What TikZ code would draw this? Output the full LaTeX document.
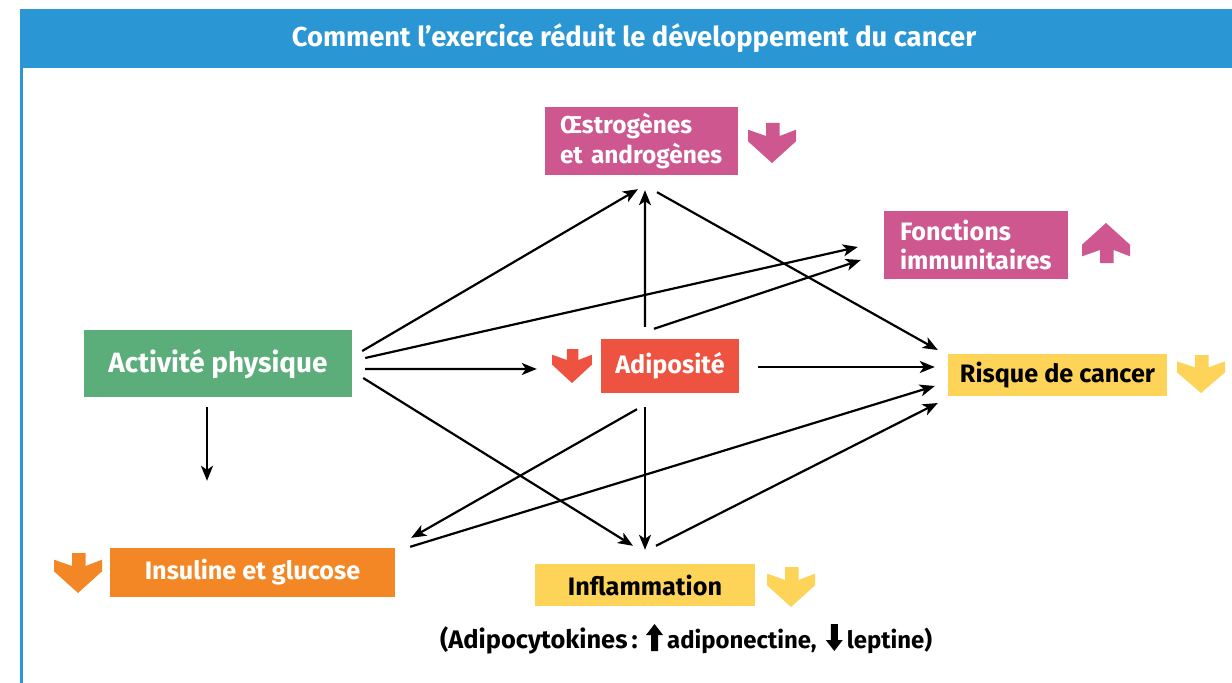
\documentclass[tikz,border=0pt]{standalone}
\usepackage{fontspec}
\setmainfont{Fira Sans}
\usetikzlibrary{arrows.meta,calc}
\definecolor{cblue}{HTML}{2A97D4}
\definecolor{cgreen}{HTML}{5BAD7A}
\definecolor{cpink}{HTML}{CE5790}
\definecolor{cred}{HTML}{EE5240}
\definecolor{cyellow}{HTML}{FDD358}
\definecolor{corange}{HTML}{F38725}
\tikzset{
  pics/blockdown/.style={code={\fill[#1] (18,0)--(31.7,0)--(31.7,13)--(48,6.7)--(48,18.3)--(24,40)--(0,18.3)--(0,6.7)--(18,13)--cycle;}},
  pics/smallup/.style={code={\fill[black] (0,-13)--(8.5,-24)--(17,-13)--(12,-13)--(12,3)--(5,3)--(5,-13)--cycle;}},
  pics/smalldown/.style={code={\fill[black] (0,-8)--(8.5,3)--(17,-8)--(12,-8)--(12,-24)--(5,-24)--(5,-8)--cycle;}},
}
\begin{document}
\begin{tikzpicture}[x=1bp,y=-1bp,
  box/.style={inner sep=0pt, font=\bfseries\fontsize{25.3}{29.5}\selectfont, text=white},
  twoline/.style={box, font=\bfseries\fontsize{24.5}{29.5}\selectfont, fill=cpink, minimum height=68bp, align=left},
  conn/.style={line width=2.2bp, -{Stealth[length=15bp,width=12bp,inset=4bp]}},
  capbig/.style={inner sep=0pt, font=\bfseries\fontsize{25.5}{28}\selectfont, anchor=base west},
  capsmall/.style={inner sep=0pt, font=\bfseries\fontsize{24}{26}\selectfont, anchor=base west}]
\useasboundingbox (0,0) rectangle (1232,683);
\fill[white] (0,0) rectangle (1232,683);
% frame
\fill[cblue] (20,9) rectangle (1232,68);
\fill[cblue] (20,68) rectangle (23,683);
\node[inner sep=0pt, text=white, font=\bfseries\fontsize{27.5}{30}\selectfont] (title) at (634,38) {Comment l’exercice réduit le développement du cancer};
% boxes
\node[box, font=\bfseries\fontsize{28}{32}\selectfont, fill=cgreen, minimum width=268bp, minimum height=67bp] (act) at (218,363.5) {Activité physique};
\node[twoline, text width=163bp, inner xsep=15bp] (oes) at (641.5,141) {Œstrogènes\\et androgènes};
\node[twoline, font=\bfseries\fontsize{25.3}{29.5}\selectfont, text width=152bp, inner xsep=16bp] (fon) at (976,245) {Fonctions\\immunitaires};
\node[box, fill=cred, minimum width=138bp, minimum height=54bp] (adi) at (670,366) {Adiposité};
\node[box, text=black, fill=cyellow, minimum width=219bp, minimum height=42bp] (ris) at (1057.5,375) {Risque de cancer};
\node[box, fill=corange, minimum width=285bp, minimum height=49bp] (ins) at (252.5,572.5) {Insuline et glucose};
\node[box, text=black, fill=cyellow, minimum width=220bp, minimum height=42bp] (inf) at (645,585) {Inflammation};
% block arrows
\pic at (748,123) {blockdown=cpink};
\pic[yscale=-1] at (1082,263) {blockdown=cpink};
\pic[xscale=0.833, yscale=0.85] at (552,349) {blockdown=cred};
\pic[yscale=0.95] at (1177,355) {blockdown=cyellow};
\pic at (54,553) {blockdown=corange};
\pic at (767,567) {blockdown=cyellow};
% caption
\node[capbig] (cap1) at (440,648) {(Adipocytokines\,:};
\coordinate (ua) at ($(cap1.base east)+(8,0)$);
\pic at (ua) {smallup};
\node[capsmall] (cap2) at ($(ua)+(21,0)$) {adiponectine,};
\coordinate (da) at ($(cap2.base east)+(9,0)$);
\pic at (da) {smalldown};
\node[capsmall] (cap3) at ($(da)+(21,0)$) {leptine)};
% connectors
\draw[conn] ($(act.east)+(10,-12.5)$) -- ($(oes.south)+(-3.5,14)$);
\draw[conn] ($(act.east)+(13,-5.5)$) -- ($(fon.west)+(-26,2)$);
\draw[conn] ($(act.east)+(13,5.5)$) -- ($(adi.west)+(-64,3)$);
\draw[conn] ($(act.east)+(11,14.5)$) -- ($(inf.north)+(-12,-18)$);
\draw[conn] ($(act.south)+(-11,10)$) -- ($(ins.north)+(-45.5,-67)$);
\draw[conn] ($(adi.north)+(-25,-12)$) -- ($(oes.south)+(3.5,15)$);
\draw[conn] ($(adi.north)+(-16,-10)$) -- ($(fon.west)+(-23,15)$);
\draw[conn] ($(oes.south)+(15.5,17)$) -- ($(ris.west)+(-10,-25)$);
\draw[conn] ($(adi.east)+(19,1)$) -- ($(ris.west)+(-13,-8)$);
\draw[conn] ($(adi.south)+(-33,16)$) -- ($(ins.north east)+(16,-10)$);
\draw[conn] ($(adi.south)+(-25,14)$) -- ($(inf.north)+(0,-14)$);
\draw[conn] ($(ins.north east)+(15,-1)$) -- ($(ris.west)+(-13,11)$);
\draw[conn] ($(inf.north)+(11,-18)$) -- ($(ris.west)+(-10,28)$);
\end{tikzpicture}
\end{document}
